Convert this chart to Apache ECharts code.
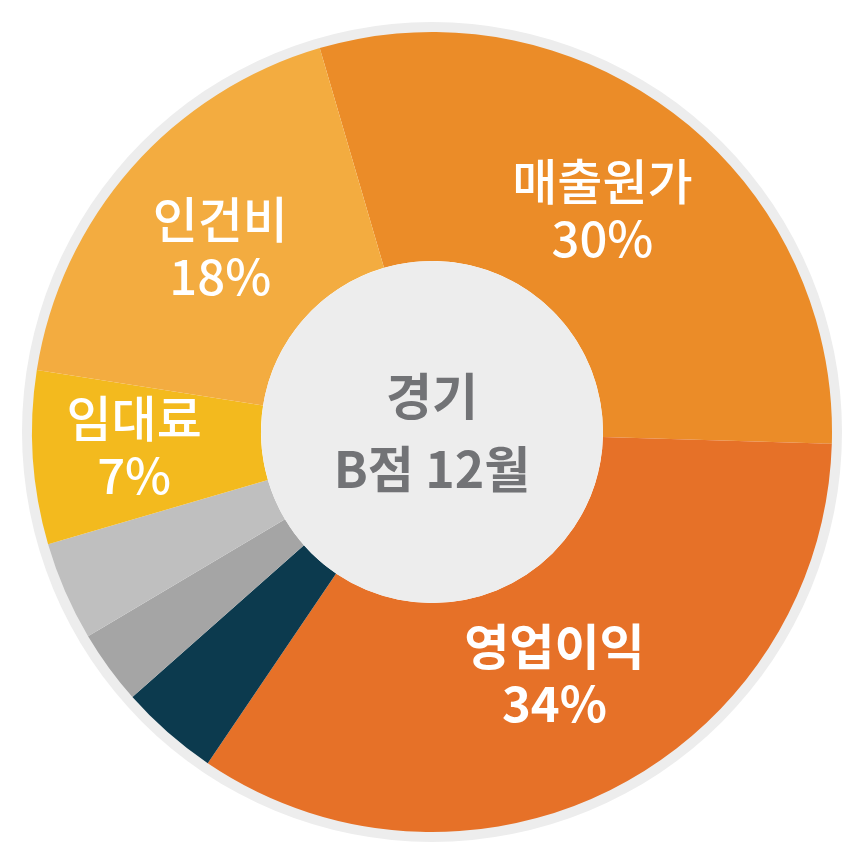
<!DOCTYPE html>
<html><head><meta charset="utf-8">
<script src="https://cdn.jsdelivr.net/npm/echarts@6/dist/echarts.min.js"></script>
<style>html,body{margin:0;padding:0;background:#fff}#c{width:864px;height:864px}</style>
</head><body><div id="c"></div>
<script>
const categories = ['매출원가', '영업이익', '기타A', '기타B', '기타C', '임대료', '인건비'];
const values = [30, 34, 4, 3, 4, 7, 18];
const showLabel = [true, true, false, false, false, true, true];
const centerTitle = '경기\nB점 12월';

const colors = ['#EB8C28', '#E67128', '#0C3A4E', '#A5A5A5', '#BFBFBF', '#F3BA1E', '#F3AC40'];
const FONT = '"Noto Sans CJK KR", "Noto Sans", sans-serif';
const labelStyle = {
  0: {offset: [-6, 6], weight: 500},
  1: {offset: [-9, -14], weight: 'bold'},
  5: {offset: [-10, -4], weight: 500},
  6: {offset: [5, 6], weight: 500}
};
const chart = echarts.init(document.getElementById('c'), null, {renderer: 'canvas'});
chart.setOption({
  animation: false,
  backgroundColor: '#ffffff',
  series: [
    {
      type: 'pie', silent: true, center: ['50%', '50%'], radius: [390, 410],
      label: {show: false}, labelLine: {show: false},
      data: [{value: 1, name: 'ring', itemStyle: {color: '#EDEDED'}}]
    },
    {
      type: 'pie', center: ['50%', '50%'], radius: [171, 400],
      startAngle: 106.3, clockwise: true, avoidLabelOverlap: false,
      itemStyle: {borderWidth: 0},
      labelLine: {show: false},
      data: categories.map((n, i) => {
        const ls = labelStyle[i] || {offset: [0, 0], weight: 'normal'};
        return {
          name: n, value: values[i],
          itemStyle: {color: colors[i]},
          label: {
            show: showLabel[i], position: 'inside',
            formatter: '{b}\n{c}%',
            color: '#ffffff', fontFamily: FONT,
            fontSize: 49, lineHeight: 57,
            fontWeight: ls.weight, offset: ls.offset
          }
        };
      })
    },
    {
      type: 'pie', silent: true, center: ['50%', '50%'], radius: [0, 171],
      labelLine: {show: false},
      label: {show: true, position: 'center', formatter: centerTitle,
        color: '#727376', fontFamily: FONT, fontSize: 50, lineHeight: 73, fontWeight: 600},
      data: [{value: 1, name: 'center', itemStyle: {color: '#EDEDED'}}]
    }
  ]
});
</script></body></html>
